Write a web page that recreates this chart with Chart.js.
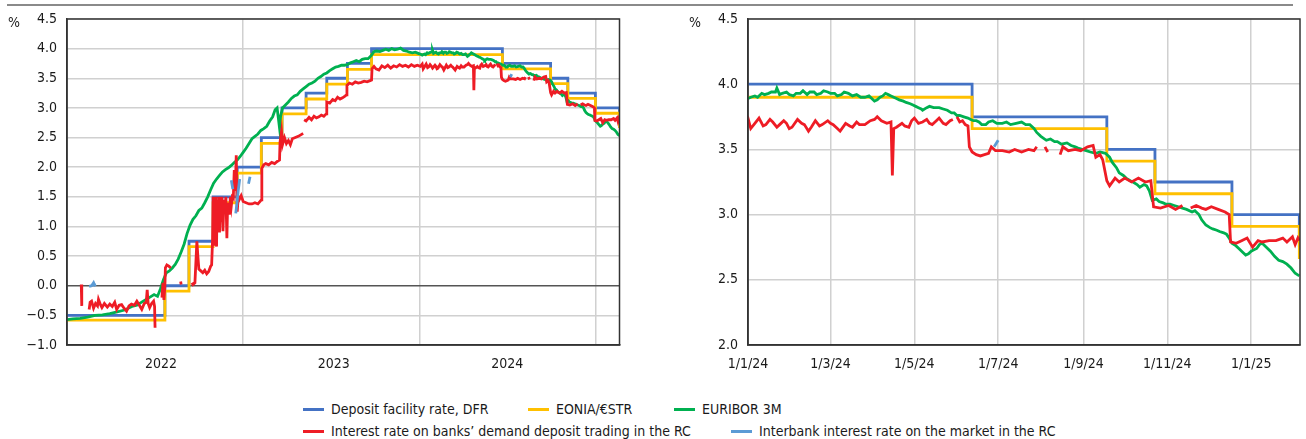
<!DOCTYPE html>
<html>
<head>
<meta charset="utf-8">
<script src="https://cdn.jsdelivr.net/npm/chart.js@4.4.1/dist/chart.umd.min.js"></script>
<style>
  body { margin: 0; background: #fff; width: 1306px; height: 439px; overflow: hidden; position: relative; font-family: "DejaVu Sans Condensed", "Liberation Sans", Arial, sans-serif; }
  #rule { position: absolute; left: 7px; top: 4px; width: 1286px; height: 2px; background: #8a8a8a; }
  .panel { position: absolute; top: 0; height: 390px; }
  #leftPanel { left: 0; width: 640px; }
  #rightPanel { left: 680px; width: 626px; }
  .lg { position: absolute; display: flex; align-items: center; height: 20px; white-space: nowrap;
        font-size: 14px; color: #1a1a1a; }
  .lg span.sw { display: inline-block; width: 21px; height: 3px; margin-right: 7px; }
</style>
</head>
<body>
<div id="rule"></div>
<div class="panel" id="leftPanel"><canvas id="leftChart"></canvas></div>
<div class="panel" id="rightPanel"><canvas id="rightChart"></canvas></div>
<div id="legend"></div>
<script>
// x values are days counted from 1 Jan 2022

const seriesNames = [
	"Deposit facility rate, DFR",
	"EONIA/€STR",
	"EURIBOR 3M",
	"Interest rate on banks’ demand deposit trading in the RC",
	"Interbank interest rate on the market in the RC",
];
const seriesColors = ["#4472c4", "#ffc000", "#00b050", "#ee1c25", "#5b9bd5"];

// policy rate changes (step series)
const dfrDays = [0, 207, 256, 305, 354, 403, 445, 494, 536, 578, 627, 893, 991, 1026, 1082, 1131];
const dfrRates = [-0.5, 0.0, 0.75, 1.5, 2.0, 2.5, 3.0, 3.25, 3.5, 3.75, 4.0, 3.75, 3.5, 3.25, 3.0, 2.75];
const estrRates = [-0.58, -0.09, 0.66, 1.4, 1.9, 2.4, 2.9, 3.15, 3.4, 3.65, 3.9, 3.66, 3.41, 3.16, 2.91, 2.66];

const euriborDays = [
	0, 20, 35, 50, 65, 80, 95, 110, 125, 140, 150, 163, 175, 185, 192, 198, 204, 210, 216, 222,
	228, 234, 240, 246, 252, 258, 264, 270, 276, 282, 288, 294, 300, 306, 312, 318, 324, 330, 336, 342,
	348, 354, 360, 366, 372, 378, 384, 390, 396, 402, 408, 414, 420, 426, 431, 435, 438, 440, 442, 446,
	452, 458, 464, 470, 476, 482, 488, 494, 500, 506, 512, 518, 524, 530, 536, 542, 548, 554, 560, 566,
	572, 578, 584, 590, 596, 602, 608, 614, 620, 626, 632, 638, 644, 650, 656, 662, 668, 674, 680, 686,
	692, 698, 704, 710, 716, 722, 728,
	730, 732, 735, 737, 740, 742, 745, 747, 750, 751, 753, 755, 758, 760, 763, 765, 768, 770, 773, 775,
	778, 780, 783, 785, 788, 790, 793, 795, 798, 800, 803, 806, 809, 812, 815, 818, 820, 822, 824, 826,
	828, 830, 832, 834, 836, 838, 840, 843, 845, 848, 850, 852, 854, 856, 857, 860, 862, 865, 869, 872,
	875, 878, 880, 882, 884, 887, 890, 892, 894, 896, 898, 900, 903, 905, 908, 911, 915, 918, 921, 925,
	929, 932, 935, 938, 940, 943, 947, 950, 953, 955, 958, 962, 965, 968, 970, 973, 976, 979, 983, 986,
	990, 993, 995, 998, 1000, 1003, 1005, 1008, 1010, 1013, 1015, 1018, 1020, 1022, 1024, 1027, 1029, 1032, 1034, 1037,
	1040, 1043, 1046, 1049, 1053, 1055, 1058, 1060, 1063, 1066, 1068, 1071, 1073, 1076, 1078, 1080, 1082, 1085, 1087, 1090,
	1092, 1094, 1096, 1098, 1100, 1102, 1104, 1107, 1110, 1113, 1116, 1119, 1122, 1125, 1128, 1131,
];
const euriborValues = [
	-0.58, -0.56, -0.55, -0.53, -0.5, -0.49, -0.47, -0.44, -0.41, -0.35, -0.33, -0.26, -0.2, -0.15, -0.18, -0.05, 0.1, 0.22, 0.25, 0.3,
	0.36, 0.45, 0.57, 0.7, 0.88, 1.02, 1.12, 1.18, 1.27, 1.31, 1.4, 1.5, 1.62, 1.73, 1.8, 1.86, 1.92, 1.96, 1.99, 2.03,
	2.08, 2.12, 2.18, 2.25, 2.32, 2.4, 2.48, 2.52, 2.56, 2.62, 2.65, 2.69, 2.78, 2.85, 2.97, 3.0, 2.8, 2.66, 2.85, 3.0,
	3.05, 3.1, 3.16, 3.2, 3.22, 3.28, 3.32, 3.36, 3.4, 3.42, 3.45, 3.5, 3.53, 3.57, 3.59, 3.63, 3.66, 3.69, 3.7, 3.72,
	3.72, 3.73, 3.76, 3.78, 3.8, 3.78, 3.82, 3.83, 3.83, 3.88, 3.95, 3.96, 3.95, 3.97, 3.99, 3.97, 4.0, 3.98, 3.99, 4.01,
	3.97, 3.96, 3.94, 3.93, 3.94, 3.92, 3.9,
	3.89, 3.9, 3.91, 3.9, 3.93, 3.92, 3.93, 3.94, 3.94, 3.97, 3.92, 3.93, 3.94, 3.92, 3.91, 3.93, 3.93, 3.95, 3.92, 3.94,
	3.94, 3.92, 3.93, 3.95, 3.94, 3.93, 3.93, 3.91, 3.92, 3.94, 3.93, 3.91, 3.92, 3.9, 3.9, 3.91, 3.89, 3.87, 3.88, 3.9,
	3.91, 3.93, 3.92, 3.91, 3.9, 3.89, 3.88, 3.87, 3.86, 3.85, 3.84, 3.83, 3.82, 3.81, 3.8, 3.82, 3.83, 3.82, 3.82, 3.81,
	3.8, 3.78, 3.78, 3.76, 3.76, 3.75, 3.74, 3.73, 3.72, 3.72, 3.71, 3.69, 3.69, 3.71, 3.72, 3.7, 3.7, 3.71, 3.69, 3.7,
	3.71, 3.69, 3.69, 3.66, 3.63, 3.6, 3.57, 3.58, 3.56, 3.56, 3.54, 3.55, 3.53, 3.52, 3.51, 3.5, 3.49, 3.48, 3.47, 3.48,
	3.47, 3.44, 3.4, 3.36, 3.32, 3.3, 3.28, 3.26, 3.25, 3.23, 3.21, 3.23, 3.22, 3.18, 3.11, 3.12, 3.1, 3.09, 3.08, 3.08,
	3.07, 3.06, 3.05, 3.04, 3.02, 3.03, 3.0, 2.96, 2.92, 2.9, 2.89, 2.88, 2.87, 2.86, 2.85, 2.82, 2.78, 2.76, 2.74, 2.71,
	2.69, 2.7, 2.72, 2.73, 2.74, 2.77, 2.78, 2.75, 2.72, 2.68, 2.65, 2.64, 2.62, 2.59, 2.55, 2.53,
];

// null marks a gap in the series
const demandDays = [
	37, 38, 45,
	53, 55, 58, 62, 66, 70, 72, 76, 79, 84, 90, 95, 100, 105, 109, 114, 119, 124, 129, 134, 139, 145, 150, 155, 160, 165, 169, 171, 173, 176, 180, 184, 186, 187, 194,
	201, 203, 205, 207, 208, 211, 215, 219, 230,
	239, 240, 250,
	262, 264, 268, 270, 272, 274, 276, 280, 284, 288, 292, 296, 300, 302, 304, 305, 306, 307, 309, 310, 312, 313, 315, 316, 318, 320, 322, 323, 325, 327, 329, 331, 333, 334,
	336, 338, 340, 342, 344, 346, 348, 350, 352, 354, 356, 358, 362, 366, 372, 378, 384, 390, 396, 400, 403, 404, 408, 412, 418, 424, 430, 436, 440, 441, 444, 446, 450, 454,
	458, 462, 466, 472, 478, 484, 488, 489,
	490, 494, 500, 505, 510, 515, 520, 525, 530, 535, 536, 542, 548, 553, 558, 563, 568, 573, 576, 577, 582, 588, 594, 600, 606, 612, 618, 624, 627, 628,
	632, 636, 642, 648, 654, 660, 666, 672, 678, 684, 690, 696, 702, 708, 714, 720, 726,
	730, 732, 735, 738, 741, 743, 746, 748, 751, 753, 756, 758, 760, 762, 766, 769, 771, 774, 776, 779, 782, 784, 788, 790, 792, 795, 797, 801, 804, 806,
	809, 811, 815, 819, 822, 824, 827, 831, 834, 835, 836, 838, 842, 844, 847, 849, 851, 854, 857, 860, 862, 864, 867, 869, 872, 874, 877, 879, 880, 882,
	884, 886, 888, 890, 891, 893, 896, 899, 902, 905, 907, 910, 915, 920, 924, 929, 934, 938, 940, 943, 946, 948, 952, 957, 959, 963, 968, 972, 977, 981,
	983, 986, 988, 991, 993, 997, 1000, 1004, 1009, 1014, 1019, 1023, 1025, 1030, 1036, 1041, 1046, 1049, 1052, 1056, 1060, 1063, 1067, 1072, 1077, 1080, 1081, 1085, 1089, 1093,
	1097, 1101, 1104, 1109, 1114, 1119, 1122, 1126, 1128, 1130, 1131,
];
const demandValues = [
	0.02, -0.34, null,
	-0.4, -0.28, -0.26, -0.38, -0.3, -0.34, -0.23, -0.32, -0.37, -0.3, -0.36, -0.31, -0.35, -0.28, -0.4, -0.33, -0.32, -0.38, -0.43, -0.34, -0.31, -0.33, -0.26, -0.33, -0.4, -0.3, -0.28, -0.07, -0.3, -0.37, -0.3, -0.26, -0.35, -0.71, null,
	-0.2, 0.05, -0.24, 0.0, 0.3, 0.35, 0.33, 0.3, null,
	0.07, 0.02, null,
	0.05, 0.02, 0.05, 0.4, 0.75, 0.5, 0.28, 0.25, 0.22, 0.26, 0.2, 0.24, 0.33, 0.35, 0.8, 1.5, 0.9, 1.5, 0.7, 1.5, 0.66, 1.45, 1.0, 1.5, 0.9, 1.5, 1.1, 1.5, 0.92, 1.45, 1.3, 1.5, 0.8, 1.2,
	1.4, 1.2, 1.5, 1.35, 1.5, 1.48, 1.95, 1.6, 2.2, 1.25, 1.5, 1.45, 1.52, 1.42, 1.4, 1.38, 1.38, 1.4, 1.38, 1.42, 1.45, 1.98, 2.04, 2.06, 2.04, 2.08, 2.06, 2.1, 2.12, 2.42, 2.6, 2.38, 2.5, 2.4,
	2.45, 2.38, 2.48, 2.5, 2.52, 2.55, 2.57, null,
	2.8, 2.78, 2.84, 2.8, 2.86, 2.83, 2.85, 2.88, 2.86, 2.9, 3.1, 3.08, 3.14, 3.12, 3.18, 3.15, 3.17, 3.2, 3.22, 3.38, 3.42, 3.4, 3.44, 3.42, 3.43, 3.45, 3.44, 3.46, 3.47, 3.66,
	3.7, 3.66, 3.64, 3.71, 3.68, 3.72, 3.67, 3.71, 3.69, 3.73, 3.7, 3.72, 3.69, 3.73, 3.7, 3.72, 3.7,
	3.74, 3.66, 3.7, 3.74, 3.68, 3.69, 3.73, 3.71, 3.67, 3.69, 3.72, 3.7, 3.66, 3.67, 3.73, 3.7, 3.69, 3.64, 3.67, 3.72, 3.68, 3.69, 3.72, 3.7, 3.69, 3.66, 3.64, 3.7, 3.68, 3.67,
	3.71, 3.69, 3.69, 3.72, 3.73, 3.75, 3.72, 3.7, 3.71, 3.3, 3.66, 3.67, 3.7, 3.68, 3.67, 3.72, 3.74, 3.7, 3.71, 3.73, 3.7, 3.69, 3.72, 3.74, 3.7, 3.69, 3.72, 3.73, null, 3.75,
	3.71, 3.72, 3.69, 3.68, 3.52, 3.48, 3.46, 3.45, 3.46, 3.47, 3.52, 3.49, 3.49, 3.48, 3.5, 3.48, 3.5, 3.49, 3.52, null, 3.52, 3.48, null, 3.46, 3.52, 3.49, 3.5, 3.49, 3.52, 3.53,
	3.44, 3.46, 3.42, 3.26, 3.22, 3.28, 3.25, 3.28, 3.25, 3.28, 3.25, 3.26, 3.06, 3.05, 3.07, 3.04, 3.07, null, 3.05, 3.07, 3.05, 3.04, 3.06, 3.04, 3.02, 3.0, 2.79, 2.78, 2.8, 2.82,
	2.75, 2.8, 2.79, 2.8, 2.8, 2.82, 2.79, 2.83, 2.77, 2.82, 2.8,
];

const interbankDays = [53, 58, 62, 64, 67, 68, 342, 345, 347, 351, 353, 356, 359, 361, 377, 380, 382, 909, 912];
const interbankValues = [-0.01, 0.0, 0.05, 0.01, 0.02, null, 1.78, 1.63, null, 1.22, 1.36, 1.6, 1.8, null, 1.72, 1.84, null, 3.52, 3.57];

// axis labels
const yearLabels = ["2022", "2023", "2024"];
const yearLabelDays = [199, 550, 903];
const yearGridDays = [366, 724, 1082];
const monthTickDays = [730, 790, 851, 912, 974, 1035, 1096];
const monthTickLabels = ["1/1/24", "1/3/24", "1/5/24", "1/7/24", "1/9/24", "1/11/24", "1/1/25"];

const fontFamily = '"DejaVu Sans Condensed", "Liberation Sans", Arial, sans-serif';
Chart.defaults.font.family = fontFamily;
Chart.defaults.font.size = 14;
Chart.defaults.color = "#1a1a1a";

function toPoints(days, values) {
	return days.map(function (d, i) {
		return { x: d, y: values[i] };
	});
}

function buildDatasets() {
	const lists = [
		toPoints(dfrDays, dfrRates),
		toPoints(dfrDays, estrRates),
		toPoints(euriborDays, euriborValues),
		toPoints(demandDays, demandValues),
		toPoints(interbankDays, interbankValues),
	];
	return lists.map(function (data, i) {
		return {
			label: seriesNames[i],
			data: data,
			borderColor: seriesColors[i],
			backgroundColor: seriesColors[i],
			borderWidth: 2.8,
			pointRadius: 0,
			stepped: i < 2 ? "before" : false,
			spanGaps: false,
			order: 5 - i,
		};
	});
}

function fmt(v) {
	return Number(v).toFixed(1).replace("-", "\u2212");
}

const framePlugin = {
	id: "frame",
	afterDatasetsDraw(chart) {
		const ctx = chart.ctx;
		const a = chart.chartArea;
		ctx.save();
		ctx.strokeStyle = "#333";
		ctx.lineWidth = 1.5;
		ctx.strokeRect(a.left, a.top, a.right - a.left, a.bottom - a.top);
		ctx.fillStyle = "#1a1a1a";
		ctx.font = "14px " + fontFamily;
		ctx.textBaseline = "middle";
		ctx.fillText("%", a.left - 59, a.top + 4);
		ctx.restore();
	},
};

function yScale(min, max, width, zeroDark) {
	return {
		min: min,
		max: max,
		afterFit: function (s) { s.width = width; },
		ticks: { stepSize: 0.5, padding: 10, callback: fmt },
		grid: {
			drawTicks: false,
			lineWidth: 1.5,
			color: function (c) {
				if (zeroDark && c.tick && Math.abs(c.tick.value) < 1e-9) return "#555";
				return "#d0d0d0";
			},
		},
		border: { color: "#333", width: 1.5 },
	};
}

// left panel: 2022 - 2025
new Chart(document.getElementById("leftChart"), {
	type: "line",
	data: { datasets: buildDatasets() },
	plugins: [framePlugin],
	options: {
		animation: false,
		responsive: true,
		maintainAspectRatio: false,
		layout: { padding: { top: 19, right: 20.5, left: 0, bottom: 0 } },
		plugins: { legend: { display: false }, tooltip: { enabled: false } },
		scales: {
			x: {
				type: "linear",
				min: 8,
				max: 1131,
				afterFit: function (s) { s.height = 45; },
				afterBuildTicks: function (axis) {
					axis.ticks = yearLabelDays.concat(yearGridDays).sort(function (a, b) { return a - b; })
						.map(function (v) { return { value: v }; });
				},
				ticks: {
					autoSkip: false,
					maxRotation: 0,
					padding: 11,
					callback: function (v) {
						const k = yearLabelDays.indexOf(v);
						return k >= 0 ? yearLabels[k] : "";
					},
				},
				grid: {
					drawTicks: false,
					lineWidth: 1.5,
					color: function (c) {
						return c.tick && yearGridDays.indexOf(c.tick.value) >= 0 ? "#d0d0d0" : "rgba(0,0,0,0)";
					},
				},
				border: { color: "#333", width: 1.5 },
			},
			y: yScale(-1, 4.5, 67, true),
		},
	},
});

// right panel: 2024 - 2025 detail
new Chart(document.getElementById("rightChart"), {
	type: "line",
	data: { datasets: buildDatasets() },
	plugins: [framePlugin],
	options: {
		animation: false,
		responsive: true,
		maintainAspectRatio: false,
		layout: { padding: { top: 19, right: 6, left: 0, bottom: 0 } },
		plugins: { legend: { display: false }, tooltip: { enabled: false } },
		scales: {
			x: {
				type: "linear",
				min: 730,
				max: 1131.5,
				afterFit: function (s) { s.height = 45; },
				afterBuildTicks: function (axis) {
					axis.ticks = monthTickDays.map(function (v) { return { value: v }; });
				},
				ticks: {
					autoSkip: false,
					maxRotation: 0,
					padding: 11,
					callback: function (v) {
						const k = monthTickDays.indexOf(v);
						return k >= 0 ? monthTickLabels[k] : "";
					},
				},
				grid: { drawTicks: false, lineWidth: 1.5, color: "#d0d0d0" },
				border: { color: "#333", width: 1.5 },
			},
			y: yScale(2, 4.5, 68, false),
		},
	},
});

// legend below both panels
const legendSlots = [[303, 399], [528, 399], [674, 399], [303, 421], [731, 421]];
const legend = document.getElementById("legend");
seriesNames.forEach(function (name, i) {
	const item = document.createElement("div");
	item.className = "lg";
	item.style.left = legendSlots[i][0] + "px";
	item.style.top = legendSlots[i][1] + "px";
	const sw = document.createElement("span");
	sw.className = "sw";
	sw.style.background = seriesColors[i];
	item.appendChild(sw);
	item.appendChild(document.createTextNode(name));
	legend.appendChild(item);
});
</script>
</body>
</html>
